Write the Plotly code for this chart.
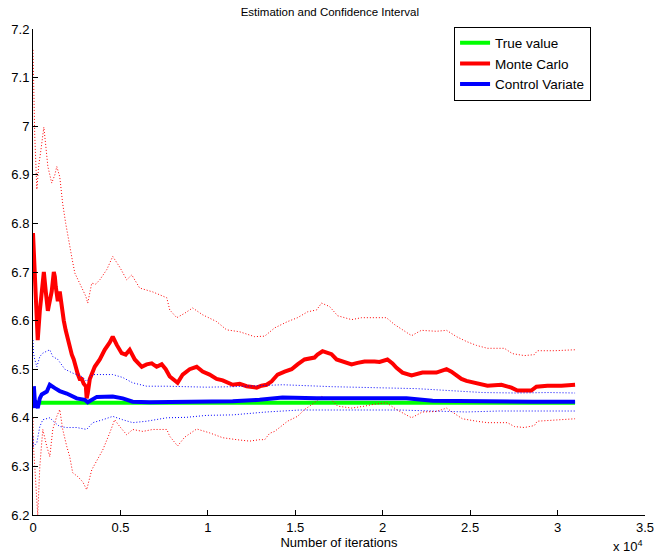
import plotly.graph_objects as go

# ---------------- data ----------------
true_value = 6.4308
true_x = [0, 31000]

mc_x = [0, 100, 160, 270, 390, 500, 620, 730, 850, 900, 960, 1070, 1190, 1250, 1300,
        1420, 1530, 1650, 1760, 1870, 1990, 2100, 2220, 2330, 2450, 2560, 2670, 2790,
        2900, 3020, 3070, 3130, 3250, 3530, 3820, 4100, 4390, 4560, 4790, 5070, 5300,
        5530, 5820, 6220, 6500, 6790, 7070, 7360, 7590, 7820, 8270, 8560, 8960, 9360,
        9700, 10100, 10500, 10850, 11420, 11820, 12220, 12790, 13070, 13360, 13650,
        13990, 14390, 14790, 15130, 15530, 16100, 16270, 16560, 16790, 17070, 17360,
        17650, 17930, 18220, 18560, 18960, 19530, 19820, 20270, 20560, 20790, 21130,
        21650, 21990, 22270, 23070, 23650, 23930, 24220, 24500, 24790, 25360, 25990,
        26790, 27360, 27700, 28500, 28790, 29420, 30220, 31000]
mc_est = [6.780, 6.700, 6.650, 6.560, 6.620, 6.670, 6.700, 6.660, 6.620, 6.630, 6.640,
          6.660, 6.700, 6.690, 6.670, 6.640, 6.660, 6.620, 6.600, 6.580, 6.560, 6.550,
          6.530, 6.520, 6.500, 6.490, 6.480, 6.480, 6.470, 6.465, 6.440, 6.450, 6.480,
          6.505, 6.520, 6.540, 6.555, 6.567, 6.550, 6.533, 6.530, 6.540, 6.520, 6.505,
          6.510, 6.512, 6.505, 6.510, 6.500, 6.485, 6.472, 6.489, 6.500, 6.505, 6.495,
          6.489, 6.480, 6.477, 6.468, 6.470, 6.465, 6.462, 6.466, 6.468, 6.475, 6.489,
          6.495, 6.500, 6.510, 6.520, 6.524, 6.530, 6.537, 6.535, 6.531, 6.520, 6.516,
          6.512, 6.510, 6.513, 6.516, 6.516, 6.515, 6.520, 6.512, 6.503, 6.493, 6.487,
          6.490, 6.493, 6.493, 6.500, 6.495, 6.487, 6.480, 6.476, 6.472, 6.466, 6.468,
          6.462, 6.456, 6.456, 6.464, 6.466, 6.466, 6.468]

mc_up_x = [0, 30, 50, 100, 220, 330, 450, 620, 730, 850, 960, 1070, 1250, 1360, 1530,
           1700, 1870, 1990, 2220, 2390, 2620, 2850, 3020, 3130, 3360, 3590, 3820, 4220,
           4560, 4960, 5360, 5650, 6100, 6850, 7650, 7820, 8220, 8670, 9130, 9700, 10100,
           10500, 11070, 11820, 12670, 13250, 13820, 14560, 15130, 15700, 16220, 16500,
           16960, 17420, 18220, 18790, 19530, 20210, 20670, 21130, 21650, 22210, 23070,
           23650, 24220, 24790, 25360, 25990, 26960, 27420, 28100, 28670, 28840, 29810,
           31000]
mc_up = [7.157, 7.100, 7.000, 6.980, 6.870, 6.920, 6.950, 6.998, 6.960, 6.917, 6.900,
         6.883, 6.900, 6.917, 6.896, 6.840, 6.800, 6.773, 6.730, 6.698, 6.680, 6.660,
         6.650, 6.636, 6.677, 6.675, 6.684, 6.705, 6.732, 6.710, 6.684, 6.694, 6.667,
         6.659, 6.647, 6.622, 6.606, 6.615, 6.626, 6.612, 6.605, 6.598, 6.581, 6.577,
         6.567, 6.568, 6.585, 6.598, 6.606, 6.618, 6.622, 6.636, 6.629, 6.610, 6.602,
         6.606, 6.606, 6.606, 6.592, 6.581, 6.569, 6.580, 6.578, 6.580, 6.567, 6.557,
         6.549, 6.543, 6.543, 6.532, 6.528, 6.530, 6.538, 6.538, 6.540]

mc_lo_x = [0, 30, 100, 220, 270, 390, 560, 790, 960, 1130, 1360, 1530, 1700, 1930, 2100,
           2270, 2560, 2850, 3070, 3360, 3650, 3990, 4390, 4670, 4960, 5360, 5700, 6280,
           6850, 7650, 7820, 8270, 8670, 9360, 10100, 10850, 11650, 12390, 12960, 13250,
           13530, 13820, 14560, 15130, 15530, 16100, 16500, 17070, 17420, 18220, 18960,
           19530, 20210, 20790, 21650, 22270, 23070, 23650, 24220, 24560, 25360, 25990,
           27130, 27530, 28100, 28670, 28840, 29990, 31000]
mc_lo = [6.400, 6.340, 6.300, 6.225, 6.200, 6.300, 6.376, 6.341, 6.320, 6.376, 6.403,
         6.417, 6.376, 6.341, 6.320, 6.287, 6.279, 6.268, 6.252, 6.293, 6.313, 6.334,
         6.369, 6.396, 6.382, 6.365, 6.376, 6.372, 6.376, 6.376, 6.362, 6.342, 6.360,
         6.377, 6.369, 6.359, 6.355, 6.352, 6.355, 6.355, 6.368, 6.372, 6.393, 6.403,
         6.417, 6.431, 6.444, 6.437, 6.424, 6.420, 6.424, 6.428, 6.431, 6.417, 6.400,
         6.412, 6.413, 6.420, 6.406, 6.398, 6.393, 6.390, 6.390, 6.382, 6.380, 6.384,
         6.393, 6.395, 6.398]

cv_x = [0, 30, 50, 100, 270, 390, 500, 790, 960, 1250, 1530, 1930, 2500, 2960, 3130,
        3650, 4560, 5130, 5700, 6670, 7650, 8790, 9930, 11420, 12960, 14270, 16220,
        17710, 19650, 21360, 22850, 24790, 26670, 28560, 31000]
cv_est = [6.458, 6.420, 6.465, 6.437, 6.420, 6.440, 6.448, 6.454, 6.468, 6.461, 6.455,
          6.450, 6.440, 6.437, 6.432, 6.443, 6.444, 6.440, 6.433, 6.432, 6.432, 6.433,
          6.433, 6.434, 6.437, 6.442, 6.440, 6.440, 6.440, 6.440, 6.435, 6.434, 6.433,
          6.433, 6.433]

cv_up_x = [0, 30, 100, 220, 390, 560, 960, 1130, 1420, 1820, 2270, 2790, 3070, 3420,
           4560, 5130, 5700, 6500, 7650, 9930, 11420, 14270, 17130, 19990, 21930, 23820,
           25700, 27650, 29530, 31000]
cv_up = [6.560, 6.533, 6.520, 6.505, 6.526, 6.533, 6.540, 6.526, 6.520, 6.500, 6.492,
         6.485, 6.475, 6.489, 6.489, 6.483, 6.472, 6.465, 6.465, 6.463, 6.464, 6.468,
         6.464, 6.462, 6.460, 6.456, 6.452, 6.451, 6.452, 6.451]

cv_lo_x = [0, 30, 220, 390, 560, 960, 1250, 1530, 1930, 2500, 3070, 3420, 3990, 4560,
           5130, 5700, 6500, 7650, 8790, 9930, 11420, 13360, 15250, 17130, 19070, 20960,
           22850, 24790, 26670, 28560, 31000]
cv_lo = [6.361, 6.341, 6.349, 6.382, 6.396, 6.400, 6.390, 6.382, 6.380, 6.380, 6.376,
         6.390, 6.396, 6.403, 6.396, 6.390, 6.393, 6.400, 6.401, 6.405, 6.406, 6.412,
         6.416, 6.416, 6.417, 6.416, 6.414, 6.412, 6.414, 6.414, 6.414]

x_tick_vals = [0, 5000, 10000, 15000, 20000, 25000, 30000, 35000]
x_tick_text = ["0", "0.5", "1", "1.5", "2", "2.5", "3", "3.5"]
y_tick_vals = [6.2, 6.3, 6.4, 6.5, 6.6, 6.7, 6.8, 6.9, 7.0, 7.1, 7.2]
y_tick_text = ["6.2", "6.3", "6.4", "6.5", "6.6", "6.7", "6.8", "6.9", "7", "7.1", "7.2"]

GREEN, RED, BLUE = "#00FF00", "#FF0000", "#0000FF"
FONT = "Arial, Liberation Sans, Helvetica, sans-serif"
DOT = "1px,2px"

fig = go.Figure()
fig.add_trace(go.Scatter(x=true_x, y=[true_value, true_value], mode="lines",
                         line=dict(color=GREEN, width=4), name="True value"))
fig.add_trace(go.Scatter(x=mc_x, y=mc_est, mode="lines",
                         line=dict(color=RED, width=4), name="Monte Carlo"))
fig.add_trace(go.Scatter(x=mc_up_x, y=mc_up, mode="lines", showlegend=False,
                         line=dict(color=RED, width=1, dash=DOT)))
fig.add_trace(go.Scatter(x=mc_lo_x, y=mc_lo, mode="lines", showlegend=False,
                         line=dict(color=RED, width=1, dash=DOT)))
fig.add_trace(go.Scatter(x=cv_x, y=cv_est, mode="lines",
                         line=dict(color=BLUE, width=4), name="Control Variate"))
fig.add_trace(go.Scatter(x=cv_up_x, y=cv_up, mode="lines", showlegend=False,
                         line=dict(color=BLUE, width=1, dash=DOT)))
fig.add_trace(go.Scatter(x=cv_lo_x, y=cv_lo, mode="lines", showlegend=False,
                         line=dict(color=BLUE, width=1, dash=DOT)))

fig.update_layout(
    width=659, height=553,
    margin=dict(l=33, r=14, t=29, b=38, autoexpand=False),
    paper_bgcolor="white", plot_bgcolor="white",
    font=dict(family=FONT, size=13, color="black"),
    title=dict(text="Estimation and Confidence Interval", x=0.485, xanchor="center",
               xref="paper", y=1 - 12 / 553, yanchor="middle",
               font=dict(size=11.5, family=FONT)),
    showlegend=True,
    legend=dict(x=0.688, y=1.005, xanchor="left", yanchor="top",
                bgcolor="white", bordercolor="black", borderwidth=1,
                font=dict(size=13.5, family=FONT), tracegroupgap=0,
                itemwidth=30),
    xaxis=dict(range=[0, 35000], tickvals=x_tick_vals, ticktext=x_tick_text,
               ticks="inside", ticklen=5, tickcolor="black", showline=True,
               linecolor="black", linewidth=1, mirror=False, showgrid=False,
               zeroline=False, automargin=False,
               title=dict(text="Number of iterations", standoff=2,
                          font=dict(size=13))),
    yaxis=dict(range=[6.2, 7.2], tickvals=y_tick_vals, ticktext=y_tick_text,
               ticks="inside", ticklen=5, tickcolor="black", showline=True,
               linecolor="black", linewidth=1, mirror=False, showgrid=False,
               zeroline=False, automargin=False),
)

fig.add_annotation(text="x 10<sup>4</sup>", xref="paper", yref="paper",
                   x=1.0, y=-0.085, xanchor="right", yanchor="bottom",
                   showarrow=False, font=dict(size=13, family=FONT))

# remove the browser's default 8px page margin so the figure fills the window
fig.write_html("out.html",
               config={"displayModeBar": False},
               post_script="document.body.style.margin='0';"
                           "document.body.style.overflow='hidden';")
